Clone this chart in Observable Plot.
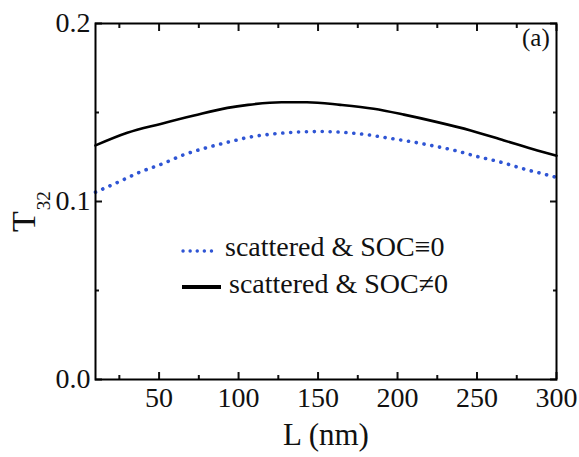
<!DOCTYPE html>
<html>
<head>
<meta charset="utf-8">
<script src="https://cdn.jsdelivr.net/npm/d3@7"></script>
<script src="https://cdn.jsdelivr.net/npm/@observablehq/plot@0.6"></script>
<style>
  html, body { margin: 0; padding: 0; background: #fff; }
  #chart { position: relative; width: 579px; height: 457px; }
  #chart svg text, #chart svg tspan { font-family: 'Liberation Serif', 'Times New Roman', serif !important; }
</style>
</head>
<body>
<div id="chart"></div>
<script>
// ---- data ----
const L_socZero = [10, 25, 38, 53, 66, 81, 96, 106, 120, 135, 151, 165, 181, 193, 206, 221, 235, 250, 265, 279, 298, 300];
const T_socZero = [0.1052, 0.1112, 0.1165, 0.1215, 0.1264, 0.1305, 0.1339, 0.1360, 0.1378, 0.1389, 0.1393, 0.1389, 0.1375, 0.1358, 0.1340, 0.1315, 0.1289, 0.1253, 0.1221, 0.1184, 0.1140, 0.1135];
const L_socNonZero = [10, 30, 51, 72, 93, 106, 127, 143, 164, 185, 204, 225, 246, 267, 288, 300];
const T_socNonZero = [0.1315, 0.1386, 0.1436, 0.1483, 0.1526, 0.1543, 0.1558, 0.1558, 0.1543, 0.1521, 0.1488, 0.1446, 0.1399, 0.1343, 0.1287, 0.1257];
const seriesNames = ["scattered & SOC\u22610", "scattered & SOC\u22600"];
const xMajor = [50, 100, 150, 200, 250, 300];
const xMinor = [25, 75, 125, 175, 225, 275];
const yMajor = [0, 0.1, 0.2];
const yMinor = [0.05, 0.15];

const dotted = L_socZero.map((l, i) => ({L: l, T: T_socZero[i]}));
const solid = L_socNonZero.map((l, i) => ({L: l, T: T_socNonZero[i]}));

const FONT = "'Liberation Serif', 'Times New Roman', serif";
const INK = "#111";
const BLUE = "#2f55d4";
const blank = () => "";

const plot = Plot.plot({
  width: 579,
  height: 457,
  marginLeft: 95,
  marginRight: 23,
  marginTop: 23,
  marginBottom: 78,
  style: {fontFamily: FONT, fontSize: "28px", color: INK, background: "#fff"},
  x: {domain: [10, 300]},
  y: {domain: [0, 0.2]},
  marks: [
    // tick labels
    Plot.axisX(xMajor, {anchor: "bottom", tickSize: 0, tickPadding: 8, label: null, fontSize: 28, fontFamily: FONT}),
    Plot.axisY(yMajor, {anchor: "left", tickSize: 0, tickPadding: 5, label: null, tickFormat: d3.format(".1f"), fontSize: 28, fontFamily: FONT}),
    // inward tick marks
    Plot.axisX(xMajor, {anchor: "bottom", tickSize: -7, tickFormat: blank, label: null, strokeWidth: 2}),
    Plot.axisX(xMinor, {anchor: "bottom", tickSize: -4, tickFormat: blank, label: null, strokeWidth: 2}),
    Plot.axisX(xMajor, {anchor: "top", tickSize: -7, tickFormat: blank, label: null, strokeWidth: 2}),
    Plot.axisX(xMinor, {anchor: "top", tickSize: -4, tickFormat: blank, label: null, strokeWidth: 2}),
    Plot.axisY(yMajor, {anchor: "left", tickSize: -7, tickFormat: blank, label: null, strokeWidth: 2}),
    Plot.axisY(yMinor, {anchor: "left", tickSize: -4, tickFormat: blank, label: null, strokeWidth: 2}),
    Plot.axisY(yMajor, {anchor: "right", tickSize: -7, tickFormat: blank, label: null, strokeWidth: 2}),
    Plot.axisY(yMinor, {anchor: "right", tickSize: -4, tickFormat: blank, label: null, strokeWidth: 2}),
    // curves
    Plot.line(solid, {x: "L", y: "T", stroke: "#000", strokeWidth: 2.6, curve: "monotone-x"}),
    Plot.line(dotted, {x: "L", y: "T", stroke: BLUE, strokeWidth: 3.6, strokeLinecap: "round", strokeDasharray: "0.1,7.8", curve: "monotone-x"}),
    Plot.frame({stroke: "#000", strokeWidth: 2})
  ]
});

document.getElementById("chart").appendChild(plot);

// annotations: axis titles, panel label, legend
const svg = d3.select(plot);
const g = svg.append("g").attr("font-family", FONT).attr("fill", INK).attr("text-anchor", "start");

g.append("text").attr("x", 326).attr("y", 445).attr("text-anchor", "middle")
  .attr("font-size", 31).text("L (nm)");

const yt = g.append("text").attr("transform", "translate(35,232) rotate(-90)").attr("font-size", 34).attr("text-anchor", "start");
yt.append("tspan").text("T");
yt.append("tspan").attr("dy", 15).attr("dx", 1).attr("font-size", 19).text("32");

g.append("text").attr("x", 522).attr("y", 46).attr("font-size", 25).attr("text-anchor", "start").text("(a)");

// legend
const lg = svg.append("g").attr("text-anchor", "start");
lg.append("line").attr("x1", 183).attr("x2", 218).attr("y1", 251).attr("y2", 251)
  .attr("stroke", BLUE).attr("stroke-width", 3.4).attr("stroke-linecap", "round").attr("stroke-dasharray", "0.1,7");
lg.append("line").attr("x1", 182).attr("x2", 221).attr("y1", 287).attr("y2", 287)
  .attr("stroke", "#000").attr("stroke-width", 4);
lg.append("text").attr("x", 225).attr("y", 256).attr("font-family", FONT).attr("font-size", 28)
  .attr("fill", INK).attr("text-anchor", "start").text(seriesNames[0]);
lg.append("text").attr("x", 229).attr("y", 293).attr("font-family", FONT).attr("font-size", 28)
  .attr("fill", INK).attr("text-anchor", "start").text(seriesNames[1]);
</script>
</body>
</html>
